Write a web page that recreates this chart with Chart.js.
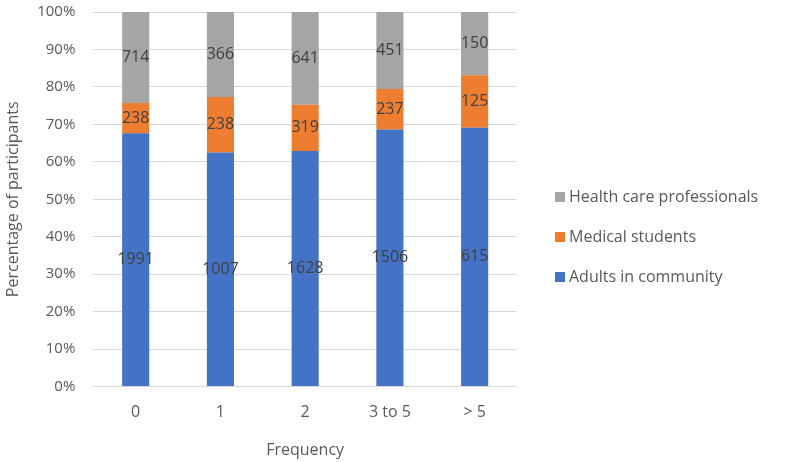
<!DOCTYPE html>
<html>
<head>
<meta charset="utf-8">
<script src="https://cdn.jsdelivr.net/npm/chart.js@4"></script>
<style>
    html, body { margin: 0; padding: 0; background: #fff; }
    #wrap { width: 786px; height: 462px; position: relative; }
</style>
</head>
<body>
<div id="wrap"><canvas id="chart"></canvas></div>
<script>
const categories = ['0', '1', '2', '3 to 5', '> 5'];
const adults = [1991, 1007, 1628, 1506, 615];
const students = [238, 238, 319, 237, 125];
const professionals = [714, 366, 641, 451, 150];
const yTicks = [0, 10, 20, 30, 40, 50, 60, 70, 80, 90, 100];

const totals = categories.map((c, i) => adults[i] + students[i] + professionals[i]);
function toPercent(arr) {
    return arr.map((v, i) => v / totals[i] * 100);
}

const fontFamily = '"Open Sans", "Noto Sans", sans-serif';

// draws the raw counts in the middle of each segment
const countLabels = {
    id: 'countLabels',
    afterDatasetsDraw(chart) {
        const ctx = chart.ctx;
        ctx.save();
        ctx.font = '16px ' + fontFamily;
        ctx.fillStyle = '#404040';
        ctx.textAlign = 'center';
        ctx.textBaseline = 'middle';
        chart.data.datasets.forEach((ds, di) => {
            const meta = chart.getDatasetMeta(di);
            meta.data.forEach((bar, i) => {
                const mid = (bar.y + bar.base) / 2;
                ctx.fillText(String(ds.counts[i]), bar.x, mid);
            });
        });
        ctx.restore();
    }
};

// legend to the right of the plot, top item = last dataset
const sideLegend = {
    id: 'sideLegend',
    afterDraw(chart) {
        const ctx = chart.ctx;
        const x = chart.chartArea.right + 38;
        const mid = chart.height / 2 + 6;
        const step = 40;
        const items = chart.data.datasets.slice().reverse();
        ctx.save();
        ctx.font = '16px ' + fontFamily;
        ctx.textBaseline = 'middle';
        ctx.textAlign = 'left';
        items.forEach((ds, i) => {
            const y = mid + (i - (items.length - 1) / 2) * step;
            ctx.fillStyle = ds.backgroundColor;
            ctx.fillRect(x, y - 5, 10, 10);
            ctx.fillStyle = '#595959';
            ctx.fillText(ds.label, x + 14, y);
        });
        ctx.restore();
    }
};

new Chart(document.getElementById('chart'), {
    type: 'bar',
    data: {
        labels: categories,
        datasets: [
            { label: 'Adults in community', counts: adults, data: toPercent(adults), backgroundColor: '#4472c4' },
            { label: 'Medical students', counts: students, data: toPercent(students), backgroundColor: '#ed7d31' },
            { label: 'Health care professionals', counts: professionals, data: toPercent(professionals), backgroundColor: '#a5a5a5' }
        ]
    },
    options: {
        responsive: true,
        maintainAspectRatio: false,
        animation: false,
        layout: { padding: { top: 3, right: 269, left: 4, bottom: 2 } },
        datasets: {
            bar: { barPercentage: 0.32, categoryPercentage: 1 }
        },
        plugins: {
            tooltip: { enabled: false },
            legend: { display: false }
        },
        scales: {
            x: {
                stacked: true,
                grid: { display: false },
                border: { display: false },
                ticks: { color: '#595959', font: { size: 16, family: fontFamily }, padding: 8 },
                title: {
                    display: true,
                    text: 'Frequency',
                    color: '#595959',
                    font: { size: 16, family: fontFamily },
                    padding: { top: 11, bottom: 0 }
                }
            },
            y: {
                stacked: true,
                min: 0,
                max: 100,
                afterBuildTicks(axis) {
                    axis.ticks = yTicks.map(v => ({ value: v }));
                },
                grid: { color: '#d9d9d9', drawTicks: true, tickLength: 15, tickColor: 'rgba(0,0,0,0)' },
                border: { display: false },
                ticks: {
                    color: '#595959',
                    font: { size: 15, family: fontFamily },
                    padding: 3,
                    callback: v => v + '%'
                },
                title: {
                    display: true,
                    text: 'Percentage of participants',
                    color: '#595959',
                    font: { size: 16, family: fontFamily },
                    padding: { top: 0, bottom: 11 }
                }
            }
        }
    },
    plugins: [countLabels, sideLegend]
});
</script>
</body>
</html>
